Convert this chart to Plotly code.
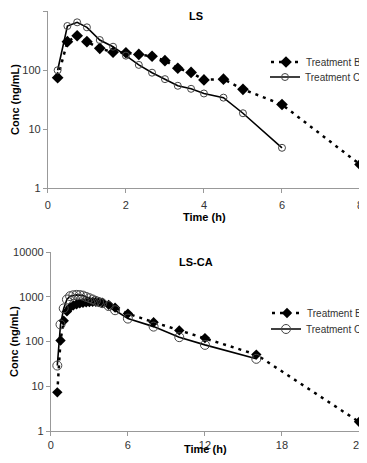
import plotly.graph_objects as go

# ---- Data: LS ----
ls_time_b = [0.25, 0.5, 0.75, 1.0, 1.33, 1.67, 2.0, 2.33, 2.67, 3.0, 3.33, 3.67, 4.0, 4.5, 5.0, 6.0, 8.0]
ls_conc_b = [74, 302, 381, 302, 233, 200, 196, 184, 171, 144, 107, 91, 68, 70, 47, 26, 2.5]
ls_time_c = [0.25, 0.5, 0.75, 1.0, 1.33, 1.67, 2.0, 2.33, 2.67, 3.0, 3.33, 3.67, 4.0, 4.5, 5.0, 6.0]
ls_conc_c = [99, 557, 643, 529, 322, 248, 175, 122, 90, 70, 54, 48, 40, 34, 18.5, 4.8]

# ---- Data: LS-CA ----
ca_time_b = [0.5, 0.75, 1.0, 1.25, 1.5, 1.75, 2.0, 2.25, 2.5, 2.75, 3.0, 3.25, 3.5, 3.75, 4.0, 4.5, 5.0, 6.0, 8.0, 10.0, 12.0, 16.0, 24.0]
ca_conc_b = [7.3, 105, 290, 470, 580, 640, 680, 710, 730, 750, 760, 770, 770, 760, 740, 660, 570, 420, 270, 177, 119, 51, 1.6]
ca_time_c = [0.5, 0.75, 1.0, 1.25, 1.5, 1.75, 2.0, 2.25, 2.5, 2.75, 3.0, 3.25, 3.5, 3.75, 4.0, 4.5, 5.0, 6.0, 8.0, 10.0, 12.0, 16.0]
ca_conc_c = [29, 240, 550, 870, 1030, 1080, 1100, 1090, 1060, 990, 930, 870, 810, 760, 720, 620, 500, 325, 215, 125, 84, 41]

series_names = ["Treatment B", "Treatment C"]
ls_yticks = [1, 10, 100, 1000]
ca_yticks = [1, 10, 100, 1000, 10000]

FONT = "Liberation Sans, Arial, sans-serif"
OFF = 8  # page body margin
W, H = 367 - OFF, 463 - 2 * OFF  # avoid vertical overflow / scrollbar

fig = go.Figure()

def add_pair(tb, cb, tc, cc, xa, ya, legb, legc, bsize, csize):
    fig.add_trace(go.Scatter(
        x=tb, y=cb, name=series_names[0], mode="lines+markers",
        xaxis=xa, yaxis=ya, legend=legb, showlegend=True,
        line=dict(color="black", width=2.5, dash="3px,5px"),
        marker=dict(symbol="diamond", size=bsize, color="black"),
    ))
    fig.add_trace(go.Scatter(
        x=tc, y=cc, name=series_names[1], mode="lines+markers",
        xaxis=xa, yaxis=ya, legend=legc, showlegend=True,
        line=dict(color="black", width=1.6),
        marker=dict(symbol="circle-open", size=csize, color="#444444",
                    line=dict(width=1, color="#444444")),
    ))

add_pair(ls_time_b, ls_conc_b, ls_time_c, ls_conc_c, "x", "y", "legend", "legend2", 9, 7)
add_pair(ca_time_b, ca_conc_b, ca_time_c, ca_conc_c, "x2", "y2", "legend3", "legend4", 8, 9)

axis_common = dict(
    showline=True, linecolor="#999999", linewidth=1,
    ticks="outside", ticklen=4, tickcolor="#999999",
    showgrid=False, zeroline=False, automargin=False,
    tickfont=dict(family=FONT, size=11, color="#333333"),
)

def px_x(p):
    return (p - OFF) / W

def px_y(p):
    return 1 - (p - OFF) / H

ytitle = dict(text="<b>Conc (ng/mL)</b>", standoff=0, font=dict(size=11, family=FONT, color="black"))
legfont = dict(size=10, family=FONT, color="#333333")

def leg(xp, yp, anchor="left"):
    return dict(x=px_x(xp), y=px_y(yp), xanchor=anchor, yanchor="middle",
                bgcolor="rgba(0,0,0,0)", font=legfont, borderwidth=0,
                tracegroupgap=0, itemwidth=30, visible=True)

def ann(text, xp, yp):
    return dict(text=text, x=px_x(xp), y=px_y(yp), xref="paper", yref="paper",
                xanchor="center", yanchor="middle",
                showarrow=False, font=dict(size=11, family=FONT, color="black"))

fig.update_layout(
    width=W, height=H,
    template="none",
    showlegend=True,
    margin=dict(l=0, r=0, t=0, b=0),
    paper_bgcolor="white", plot_bgcolor="white",
    font=dict(family=FONT, size=11, color="black"),
    xaxis=dict(domain=[px_x(48), px_x(361)], range=[0, 8], tickvals=[0, 2, 4, 6, 8],
               anchor="y", ticklabelstandoff=3, **axis_common),
    yaxis=dict(domain=[px_y(188), px_y(11)], type="log", range=[0, 3],
               tickvals=ls_yticks, ticktext=[str(v) for v in ls_yticks],
               anchor="x", title=ytitle, **axis_common),
    xaxis2=dict(domain=[px_x(51), px_x(360)], range=[0, 24], tickvals=[0, 6, 12, 18, 24],
                anchor="y2", ticklabelstandoff=0, **axis_common),
    yaxis2=dict(domain=[px_y(431), px_y(252)], type="log", range=[0, 4],
                tickvals=ca_yticks, ticktext=[str(v) for v in ca_yticks],
                anchor="x2", title=ytitle, **axis_common),
    legend=leg(366, 62, "right"),
    legend2=leg(366, 77, "right"),
    legend3=leg(267, 313),
    legend4=leg(267, 329),
    annotations=[
        ann("<b>LS</b>", 197, 16),
        ann("<b>LS-CA</b>", 197, 262),
        ann("<b>Time (h)</b>", 205, 217),
        ann("<b>Time (h)</b>", 206, 449),
    ],
)

fig.write_html("out.html")
